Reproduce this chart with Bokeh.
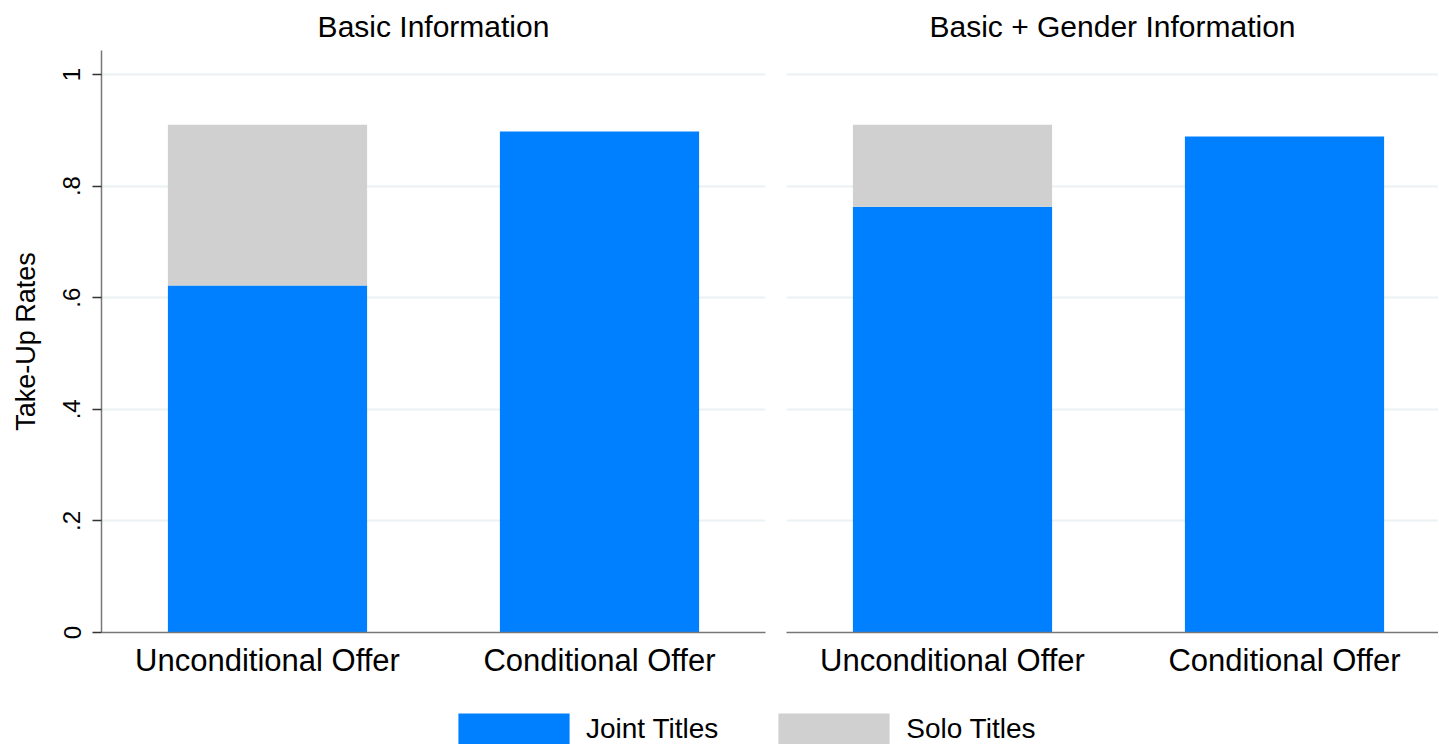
from bokeh.plotting import figure
from bokeh.models import Range1d, FixedTicker, Legend, LegendItem, ColumnDataSource
from bokeh.layouts import column, row
from bokeh.embed import file_html
from bokeh.resources import INLINE

# ---- data ----
categories = ["Unconditional Offer", "Conditional Offer"]
panel_titles = ["Basic Information", "Basic + Gender Information"]
series = ["Joint Titles", "Solo Titles"]
joint_basic = [0.622, 0.898]
solo_basic = [0.288, 0.0]
joint_gender = [0.763, 0.889]
solo_gender = [0.147, 0.0]
y_ticks = [0.0, 0.2, 0.4, 0.6, 0.8, 1.0]
y_tick_labels = ["0", ".2", ".4", ".6", ".8", "1"]

# ---- style ----
COLORS = ["#0080FF", "#D0D0D0"]
FONT = "Liberation Sans"
AXIS_COLOR = "#777777"
GRID_COLOR = "#EAF2F3"
UNIT_PX = 332.0
FIG_H = 704


def make_panel(title, joint, solo, width, border_left, border_right, show_y):
    frame_w = width - border_left - border_right
    x = [i + 0.5 for i in range(len(categories))]
    src = ColumnDataSource(dict(x=x, joint=joint, solo=solo))
    p = figure(width=width, height=FIG_H,
               x_range=Range1d(0, frame_w / UNIT_PX), y_range=Range1d(0, 1.043),
               output_backend="svg", toolbar_location=None, title=title,
               min_border_left=border_left, min_border_right=border_right,
               min_border_top=50, min_border_bottom=72)
    p.vbar_stack(["joint", "solo"], x="x", width=0.6, fill_color=COLORS,
                 line_color=None, source=src)
    p.outline_line_color = None
    p.background_fill_color = "white"
    p.border_fill_color = "white"

    p.title.text_font = FONT
    p.title.text_font_size = "30px"
    p.title.text_font_style = "normal"
    p.title.text_color = "#000000"
    p.title.align = "center"
    p.title.vertical_align = "middle"
    p.title.standoff = 14

    p.xgrid.visible = False
    p.ygrid.ticker = FixedTicker(ticks=y_ticks)
    p.ygrid.grid_line_color = GRID_COLOR
    p.ygrid.grid_line_width = 2

    xa = p.xaxis[0]
    xa.ticker = FixedTicker(ticks=x)
    xa.major_label_overrides = {xi: c for xi, c in zip(x, categories)}
    xa.major_tick_out = 0
    xa.major_tick_in = 0
    xa.minor_tick_out = 0
    xa.minor_tick_in = 0
    xa.axis_line_color = AXIS_COLOR
    xa.axis_line_width = 1.5
    xa.major_label_text_font = FONT
    xa.major_label_text_font_size = "31px"
    xa.major_label_text_color = "#000000"
    xa.major_label_standoff = 10

    ya = p.yaxis[0]
    ya.ticker = FixedTicker(ticks=y_ticks)
    if show_y:
        ya.major_label_overrides = {t: l for t, l in zip(y_ticks, y_tick_labels)}
        ya.major_label_orientation = "parallel"
        ya.major_tick_out = 9
        ya.major_tick_in = 0
        ya.minor_tick_out = 0
        ya.minor_tick_in = 0
        ya.major_tick_line_color = "#333333"
        ya.major_tick_line_width = 1.5
        ya.axis_line_color = AXIS_COLOR
        ya.axis_line_width = 1.5
        ya.major_label_text_font = FONT
        ya.major_label_text_font_size = "24px"
        ya.major_label_text_color = "#000000"
        ya.major_label_standoff = 12
        ya.axis_label = "Take-Up Rates"
        ya.axis_label_text_font = FONT
        ya.axis_label_text_font_size = "27px"
        ya.axis_label_text_font_style = "normal"
        ya.axis_label_text_color = "#000000"
        ya.axis_label_standoff = 20
    else:
        ya.visible = False
    return p


p1 = make_panel(panel_titles[0], joint_basic, solo_basic, 775, 101, 10, True)
p2 = make_panel(panel_titles[1], joint_gender, solo_gender, 663, 11, 0, False)

# ---- shared legend ----
leg = figure(width=1438, height=40, output_backend="svg", toolbar_location=None,
             x_range=Range1d(0, 1), y_range=Range1d(0, 1),
             min_border_left=0, min_border_right=0, min_border_top=0, min_border_bottom=0)
leg.axis.visible = False
leg.grid.visible = False
leg.outline_line_color = None
# legend proxies, positioned outside the visible range
r_joint = leg.vbar(x=[5], top=[1], width=0.1, fill_color=COLORS[0], line_color=None)
r_solo = leg.vbar(x=[5], top=[1], width=0.1, fill_color=COLORS[1], line_color=None)
legend = Legend(items=[LegendItem(label=series[0], renderers=[r_joint]),
                       LegendItem(label=series[1], renderers=[r_solo])],
                location=(444, -4), orientation="horizontal",
                glyph_width=139, glyph_height=39, label_height=39,
                label_standoff=3, spacing=46, padding=0, margin=0,
                border_line_color=None, background_fill_alpha=0,
                label_text_font=FONT, label_text_font_size="28px",
                label_text_color="#000000")
leg.add_layout(legend, "center")

layout = column(row(p1, p2, spacing=0), leg, spacing=0)

open("out.html", "w").write(file_html(layout, INLINE))
